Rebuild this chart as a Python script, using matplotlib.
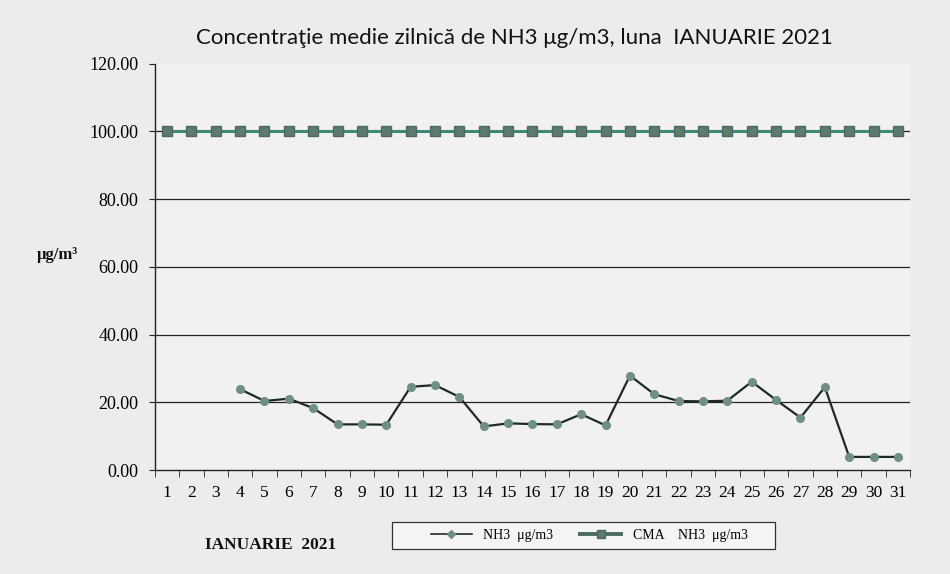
import matplotlib
matplotlib.use("Agg")
import matplotlib.pyplot as plt
from matplotlib.lines import Line2D
from matplotlib.patches import Rectangle

days = list(range(1, 32))
nh3_days = list(range(4, 32))
nh3_values = [23.9, 20.4, 21.1, 18.3, 13.5, 13.5, 13.4, 24.6, 25.1, 21.6,
              12.9, 13.8, 13.6, 13.5, 16.5, 13.2, 27.9, 22.4, 20.4, 20.3,
              20.5, 26.1, 20.7, 15.5, 24.5, 3.9, 3.9, 3.9]
cma_values = [100.0] * 31
yticks = [0, 20, 40, 60, 80, 100, 120]

title = "Concentraţie medie zilnică de NH3 μg/m3, luna  IANUARIE 2021"
serif = ["Liberation Serif", "DejaVu Serif"]

fig = plt.figure(figsize=(9.5, 5.74), dpi=100, facecolor="#ececec")
ax = fig.add_axes([0.163, 0.181, 0.795, 0.708])
ax.set_facecolor("#f1f1f1")

for g in yticks[1:-1]:
    ax.axhline(g, color="#222222", lw=0.9, zorder=1)

ax.plot(days, cma_values, color="#3d8a78", lw=2.2, marker="s", ms=7.5,
        markerfacecolor="#5e7a6e", markeredgecolor="#4d6a5e", zorder=3)
ax.plot(nh3_days, nh3_values, color="#1f2a24", lw=1.6, marker="o", ms=5.5,
        markerfacecolor="#6f8f80", markeredgecolor="#6f8f80", zorder=4)

ax.set_xlim(0.5, 31.5)
ax.set_ylim(0, 120)
ax.set_yticks(yticks)
ax.set_yticklabels([f"{v:.2f}" for v in yticks], fontfamily=serif, fontsize=13)
ax.set_xticks(days)
ax.set_xticklabels([str(d) for d in days], fontfamily=serif, fontsize=12.5)
ax.set_xticks([d + 0.5 for d in range(0, 32)], minor=True)
ax.tick_params(axis="x", which="major", length=0, pad=11)
ax.tick_params(axis="x", which="minor", length=5, direction="out", color="#222222")
ax.tick_params(axis="y", length=4, direction="out", color="#222222", pad=8)
for s in ["top", "right"]:
    ax.spines[s].set_visible(False)
for s in ["left", "bottom"]:
    ax.spines[s].set_color("#222222")
    ax.spines[s].set_linewidth(1.0)

fig.text(0.541, 0.933, title, ha="center", va="center", fontsize=16,
         fontfamily=["Lato", "DejaVu Sans"], color="#111111")
fig.text(0.06, 0.556, "μg/m³", ha="center", va="center", fontsize=12,
         fontweight="bold", fontfamily=serif, color="#111111")
fig.text(0.285, 0.05, "IANUARIE  2021", ha="center", va="center", fontsize=12.5,
         fontweight="bold", fontfamily=serif, color="#111111")

fig.patches.append(Rectangle((0.4126, 0.0436), 0.4032, 0.047,
                             transform=fig.transFigure, facecolor="#f4f4f4",
                             edgecolor="#333333", lw=0.9, zorder=0))

handles = [
    Line2D([], [], color="#1f2a24", lw=1.2, marker="D", ms=4,
           markerfacecolor="#6f8f80", markeredgecolor="#6f8f80"),
    Line2D([], [], color="#4d6a5e", lw=2.8, marker="s", ms=6,
           markerfacecolor="#5e7a6e", markeredgecolor="#4d6a5e"),
]
leg = fig.legend(handles, ["NH3  μg/m3", "CMA    NH3  μg/m3"], loc="center",
                 bbox_to_anchor=(0.62, 0.067), ncol=2, frameon=False,
                 prop={"family": serif, "size": 10}, handlelength=3.0,
                 handletextpad=0.8, columnspacing=1.9, numpoints=1)

fig.savefig("out.png", dpi=100, facecolor=fig.get_facecolor())
